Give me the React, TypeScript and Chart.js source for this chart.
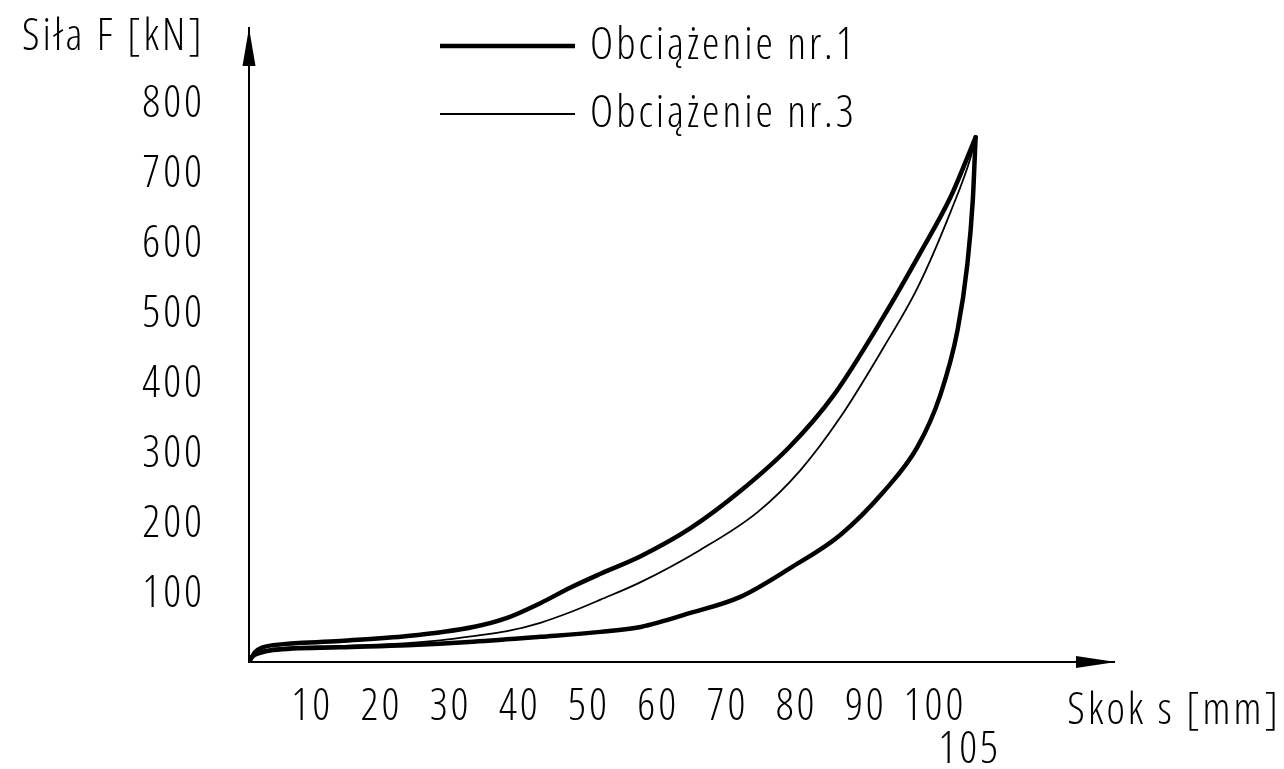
import React, { useEffect, useRef } from 'react';
import { Chart, registerables } from 'chart.js';

Chart.register(...registerables);

// ---- data ----
// Obciążenie nr.1 – loading branch
const load1X = [0, 0.87, 2.02, 3.47, 13.2, 22.9, 32.4, 37.3, 42.1, 46.4, 50.8, 56.6, 63.8, 71.0, 78.2, 84.5, 91.7, 97.0, 101.4, 105];
const load1F = [0, 14, 21, 24, 30, 37, 50, 63, 84, 106, 126, 151, 191, 244, 308, 381, 493, 584, 664, 749];

// Obciążenie nr.1 – unloading branch
const unload1X = [105, 104.6, 103.8, 102.4, 99.9, 96.6, 91.7, 85.4, 78.2, 71.0, 63.8, 56.6, 50.8, 42.1, 32.4, 22.9, 13.2, 3.47, 1.59, 0.43, 0];
const unload1F = [749, 660, 567, 474, 381, 307, 243, 181, 134, 93, 70, 50, 43, 36, 29, 24, 21, 17, 13, 7, 0];

// Obciążenie nr.3
const load3X = [0, 0.58, 1.88, 3.47, 13.2, 22.9, 27.6, 32.4, 37.3, 42.1, 46.4, 50.8, 56.6, 65.2, 73.5, 79.7, 85.5, 91.7, 96.6, 101.4, 104.3, 105];
const load3F = [0, 9, 16, 19, 23, 27, 31, 37, 44, 56, 71, 89, 114, 160, 214, 274, 350, 449, 534, 643, 721, 749];

const xTickValues = [10, 20, 30, 40, 50, 60, 70, 80, 90, 100, 105];
const xTickLabels: (string | string[])[] = ['10', '20', '30', '40', '50', '60', '70', '80', '90', '100', ['', '105']];
const yTickValues = [100, 200, 300, 400, 500, 600, 700, 800];
const yTickLabels = ['100', '200', '300', '400', '500', '600', '700', '800'];

const seriesNames = ['Obciążenie nr.1', 'Obciążenie nr.3'];
const xAxisTitle = 'Skok s [mm]';
const yAxisTitle = 'Siła F [kN]';

const FONT_FAMILY = "'Open Sans', 'DejaVu Sans Condensed', sans-serif";
const FONT_WEIGHT = '300 condensed';
const FONT_SIZE = 44;
const FONT_STRING = `${FONT_WEIGHT} ${FONT_SIZE}px ${FONT_FAMILY}`;
const LETTER_SPACING = '3px';

const toPoints = (xs: number[], ys: number[]) => xs.map((x, i) => ({ x, y: ys[i] }));

const decorPlugin = {
  id: 'decor',
  beforeDraw(chart: any) {
    const ctx = chart.ctx;
    ctx.fillStyle = '#fff';
    ctx.fillRect(0, 0, chart.width, chart.height);
    (ctx as any).letterSpacing = LETTER_SPACING;
  },
  afterDraw(chart: any) {
    const ctx = chart.ctx;
    const area = chart.chartArea;
    ctx.save();
    ctx.fillStyle = '#000';
    ctx.strokeStyle = '#000';
    // y axis arrow
    const ax = area.left;
    ctx.beginPath();
    ctx.moveTo(ax, area.top);
    ctx.lineTo(ax - 6.5, area.top + 38);
    ctx.lineTo(ax + 6.5, area.top + 38);
    ctx.closePath();
    ctx.fill();
    // x axis arrow
    const ay = area.bottom;
    ctx.beginPath();
    ctx.moveTo(area.right + 2, ay);
    ctx.lineTo(area.right - 38, ay - 6);
    ctx.lineTo(area.right - 38, ay + 6);
    ctx.closePath();
    ctx.fill();

    ctx.font = FONT_STRING;
    (ctx as any).letterSpacing = LETTER_SPACING;
    ctx.textBaseline = 'middle';
    ctx.textAlign = 'left';
    ctx.fillText(yAxisTitle, 22, 37);
    ctx.textAlign = 'right';
    ctx.fillText(xAxisTitle, 1281, 711);
    ctx.textAlign = 'left';

    // legend
    const rows = [46, 114];
    let r = 0;
    chart.data.datasets.forEach((ds: any) => {
      if (!ds.label || ds.hideInLegend) return;
      const y = rows[r++];
      ctx.lineWidth = ds.borderWidth;
      ctx.beginPath();
      ctx.moveTo(440, y);
      ctx.lineTo(575, y);
      ctx.stroke();
      ctx.fillText(ds.label, 590, y);
    });
    ctx.restore();
  },
};

export default function App() {
  const ref = useRef<HTMLCanvasElement | null>(null);
  useEffect(() => {
    document.body.style.margin = '0';
    const canvas = ref.current!;
    const font = { family: FONT_FAMILY, size: FONT_SIZE, weight: FONT_WEIGHT, lineHeight: 0.98 };
    const lineDefaults = {
      showLine: true,
      borderColor: '#000',
      pointRadius: 0,
      cubicInterpolationMode: 'monotone',
      borderCapStyle: 'round',
      borderJoinStyle: 'round',
    };
    const chart = new Chart(canvas, {
      type: 'scatter',
      data: {
        datasets: [
          { ...lineDefaults, label: seriesNames[0], data: toPoints(load1X, load1F), borderWidth: 4.5 },
          { ...lineDefaults, label: seriesNames[0], hideInLegend: true, data: toPoints(unload1X, unload1F), borderWidth: 4.5 },
          { ...lineDefaults, label: seriesNames[1], data: toPoints(load3X, load3F), borderWidth: 1.8 },
        ] as any,
      },
      options: {
        animation: false,
        responsive: false,
        devicePixelRatio: 1,
        layout: { padding: { top: 28, right: 170, left: 0, bottom: 0 } },
        plugins: { legend: { display: false }, tooltip: { enabled: false } },
        scales: {
          x: {
            type: 'linear',
            min: 0,
            max: 125,
            afterBuildTicks: (s: any) => { s.ticks = xTickValues.map((v) => ({ value: v })); },
            afterFit: (s: any) => { s.height = 107; s.paddingLeft = 0; s.paddingRight = 0; },
            ticks: {
              autoSkip: false,
              maxRotation: 0,
              padding: 24,
              labelOffset: -6,
              color: '#000',
              font,
              callback: (_v: any, i: number) => xTickLabels[i],
            },
            grid: { display: false, drawTicks: false },
            border: { display: true, color: '#000', width: 2 },
          },
          y: {
            type: 'linear',
            min: 0,
            max: 905,
            afterBuildTicks: (s: any) => { s.ticks = yTickValues.map((v) => ({ value: v })); },
            afterFit: (s: any) => { s.width = 249; s.paddingTop = 0; s.paddingBottom = 0; },
            ticks: {
              autoSkip: false,
              padding: 44,
              labelOffset: 3,
              color: '#000',
              font,
              callback: (_v: any, i: number) => yTickLabels[i],
            },
            grid: { display: false, drawTicks: false },
            border: { display: true, color: '#000', width: 2 },
          },
        },
      } as any,
      plugins: [decorPlugin],
    });
    return () => chart.destroy();
  }, []);
  return (
    <div style={{ position: 'fixed', left: 0, top: 0, width: 1284, height: 769, background: '#fff' }}>
      <canvas ref={ref} width={1284} height={769} />
    </div>
  );
}
